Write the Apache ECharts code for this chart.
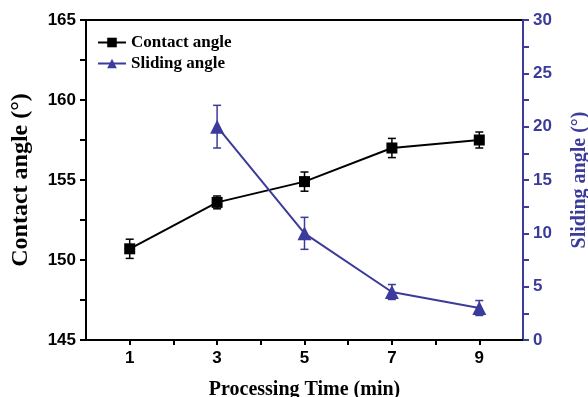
<!DOCTYPE html>
<html>
<head>
<meta charset="utf-8">
<script src="https://cdn.jsdelivr.net/npm/echarts@6/dist/echarts.min.js"></script>
<style>html,body{margin:0;padding:0;background:#fff;}#c{width:588px;height:397px;}</style>
</head>
<body>
<div id="c"></div>
<script>
// Data
const times = [1, 3, 5, 7, 9];
const contactAngle = [150.7, 153.6, 154.9, 157.0, 157.5];
const contactErr = [0.6, 0.4, 0.6, 0.6, 0.5];
const slidingTimes = [3, 5, 7, 9];
const slidingAngle = [20.0, 10.0, 4.5, 3.0];
const slidingErr = [2.0, 1.5, 0.7, 0.7];
const xTickLabels = [1, 3, 5, 7, 9];
const xTicks = [1, 2, 3, 4, 5, 6, 7, 8, 9];
const leftTickLabels = [145, 150, 155, 160, 165];
const rightTickLabels = [0, 5, 10, 15, 20, 25, 30];

const BLUE = '#3b3b9b';
const sansBold = {fontFamily: 'Liberation Sans, Arial, sans-serif', fontWeight: 'bold', fontSize: 17};
const serifBold = {fontFamily: 'Liberation Serif, Times New Roman, serif', fontWeight: 'bold'};

function errData(xs, ys, es) {
  return xs.map((x, i) => [x, ys[i] - es[i], ys[i] + es[i]]);
}
function errRender(color) {
  return function (params, api) {
    const x = api.value(0);
    const top = api.coord([x, api.value(2)]);
    const bot = api.coord([x, api.value(1)]);
    const w = 4;
    const st = {stroke: color, lineWidth: 1.5};
    return {type: 'group', children: [
      {type: 'line', shape: {x1: top[0], y1: top[1], x2: bot[0], y2: bot[1]}, style: st},
      {type: 'line', shape: {x1: top[0] - w, y1: top[1], x2: top[0] + w, y2: top[1]}, style: st},
      {type: 'line', shape: {x1: bot[0] - w, y1: bot[1], x2: bot[0] + w, y2: bot[1]}, style: st}
    ]};
  };
}

const chart = echarts.init(document.getElementById('c'));
chart.setOption({
  animation: false,
  backgroundColor: '#fff',
  grid: {
    left: 86, right: 65, top: 20, bottom: 57, containLabel: false, outerBoundsMode: 'none',
    show: true, borderColor: '#000', borderWidth: 2, backgroundColor: 'transparent'
  },
  legend: {
    left: 92, top: 29, orient: 'vertical', itemGap: 4, itemWidth: 28, itemHeight: 12,
    data: ['Contact angle', 'Sliding angle'],
    textStyle: Object.assign({fontSize: 17, color: '#000'}, serifBold)
  },
  xAxis: [
    {
      type: 'value', min: 0, max: 10, interval: 1, position: 'bottom',
      name: 'Processing Time (min)', nameLocation: 'middle', nameGap: 40,
      nameTextStyle: Object.assign({fontSize: 20, color: '#000'}, serifBold),
      axisLine: {show: true, onZero: false, lineStyle: {color: '#000', width: 2}},
      axisTick: {show: true, inside: false, customValues: xTicks, length: 5, lineStyle: {width: 2, color: '#000'}},
      axisLabel: Object.assign({customValues: xTickLabels, color: '#000', margin: 10}, sansBold),
      splitLine: {show: false}
    }
  ],
  yAxis: [
    {
      type: 'value', min: 145, max: 165, interval: 2.5, position: 'left',
      name: 'Contact angle (°)', nameLocation: 'middle', nameGap: 53,
      nameTextStyle: Object.assign({fontSize: 24, color: '#000'}, serifBold),
      axisLine: {show: true, onZero: false, lineStyle: {color: '#000', width: 2}},
      axisTick: {show: true, inside: false, length: 6, lineStyle: {width: 2, color: '#000'}},
      axisLabel: Object.assign({customValues: leftTickLabels, color: '#000', margin: 10}, sansBold),
      splitLine: {show: false}
    },
    {
      type: 'value', min: 0, max: 30, interval: 2.5, position: 'right',
      name: 'Sliding angle (°)', nameLocation: 'middle', nameGap: 47,
      nameTextStyle: Object.assign({fontSize: 20, color: BLUE}, serifBold),
      axisLine: {show: true, onZero: false, lineStyle: {color: BLUE, width: 2}},
      axisTick: {show: true, inside: false, length: 6, lineStyle: {width: 2, color: BLUE}},
      axisLabel: Object.assign({customValues: rightTickLabels, color: BLUE, margin: 10}, sansBold),
      splitLine: {show: false}
    }
  ],
  series: [
    {
      name: 'Contact angle', type: 'line', xAxisIndex: 0, yAxisIndex: 0,
      data: times.map((t, i) => [t, contactAngle[i]]),
      symbol: 'rect', symbolSize: 11,
      lineStyle: {color: '#000', width: 2}, itemStyle: {color: '#000'}, z: 3
    },
    {
      name: 'Sliding angle', type: 'line', xAxisIndex: 0, yAxisIndex: 1,
      data: slidingTimes.map((t, i) => [t, slidingAngle[i]]),
      symbol: 'triangle', symbolSize: 14,
      lineStyle: {color: BLUE, width: 2}, itemStyle: {color: BLUE}, z: 3
    },
    {
      type: 'custom', xAxisIndex: 0, yAxisIndex: 0,
      data: errData(times, contactAngle, contactErr),
      encode: {x: 0, y: [1, 2]},
      renderItem: errRender('#000'), z: 2
    },
    {
      type: 'custom', xAxisIndex: 0, yAxisIndex: 1,
      data: errData(slidingTimes, slidingAngle, slidingErr),
      encode: {x: 0, y: [1, 2]},
      renderItem: errRender(BLUE), z: 2
    }
  ]
});
</script>
</body>
</html>
